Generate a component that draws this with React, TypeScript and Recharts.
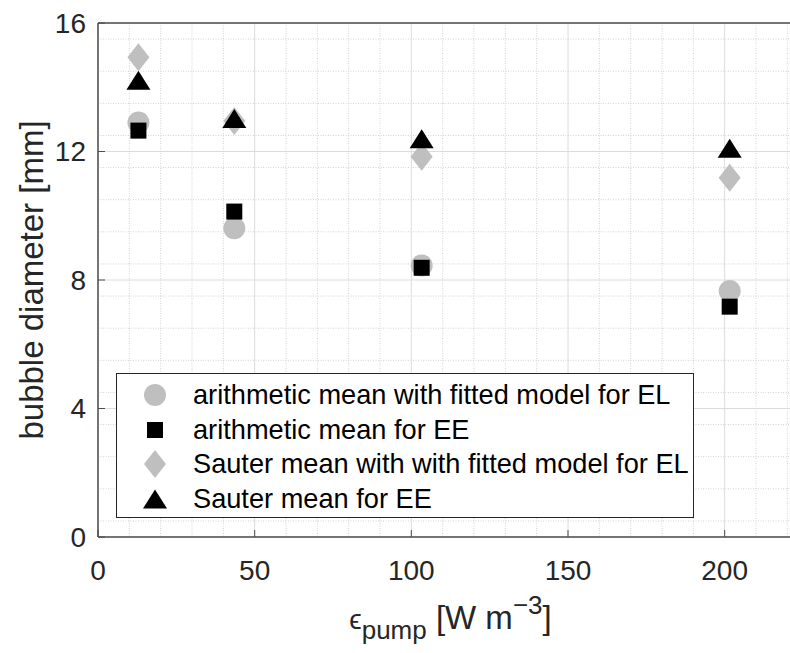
import { ScatterChart, Scatter, XAxis, YAxis, CartesianGrid, Legend, Label } from "recharts";

const epsilonPump = [12.9, 43.5, 103.3, 201.6];
const arithmeticEL = [12.9, 9.61, 8.45, 7.66];
const arithmeticEE = [12.65, 10.13, 8.38, 7.17];
const sauterEL = [14.93, 12.95, 11.84, 11.18];
const sauterEE = [14.22, 13.03, 12.4, 12.1];

const xTicks = [0, 50, 100, 150, 200];
const yTicks = [0, 4, 8, 12, 16];
const xMinor = [10, 20, 30, 40, 60, 70, 80, 90, 110, 120, 130, 140, 160, 170, 180, 190, 210, 220];
const yMinor = [
  0.5, 1, 1.5, 2, 2.5, 3, 3.5, 4.5, 5, 5.5, 6, 6.5, 7, 7.5, 8.5, 9, 9.5, 10, 10.5, 11, 11.5,
  12.5, 13, 13.5, 14, 14.5, 15, 15.5,
];

const labels = [
  "arithmetic mean with fitted model for EL",
  "arithmetic mean for EE",
  "Sauter mean with with fitted model for EL",
  "Sauter mean for EE",
];

const FONT = "'Liberation Sans', Arial, Helvetica, sans-serif";
const TEXT = "#262626";
const GRAY = "#bfbfbf";

const toPoints = (ys: number[]) => epsilonPump.map((x, i) => ({ x, y: ys[i] }));

const Dot = ({ cx, cy }: any) => <circle cx={cx} cy={cy} r={11} fill={GRAY} />;
const Square = ({ cx, cy }: any) => <rect x={cx - 8} y={cy - 8} width={16} height={16} fill="#000" />;
const Diamond = ({ cx, cy }: any) => (
  <polygon points={`${cx},${cy - 14} ${cx + 11},${cy} ${cx},${cy + 14} ${cx - 11},${cy}`} fill={GRAY} />
);
const Triangle = ({ cx, cy }: any) => (
  <polygon points={`${cx},${cy - 9.5} ${cx + 12},${cy + 9.5} ${cx - 12},${cy + 9.5}`} fill="#000" />
);

const shapes = [Dot, Square, Diamond, Triangle];

const XLabel = ({ viewBox }: any) => (
  <text
    x={viewBox.x + viewBox.width / 2}
    y={viewBox.y + 92}
    textAnchor="middle"
    fill={TEXT}
    fontFamily={FONT}
    fontSize={33}
  >
    <tspan fontSize={28}>ϵ</tspan>
    <tspan fontSize={26} dy={10}>pump</tspan>
    <tspan dy={-10}> [W m</tspan>
    <tspan fontSize={26} dy={-15}>−3</tspan>
    <tspan dy={15}>]</tspan>
  </text>
);

const YLabel = ({ viewBox }: any) => {
  const x = viewBox.x + 43;
  const y = viewBox.y + viewBox.height / 2;
  return (
    <text x={x} y={y} transform={`rotate(-90 ${x} ${y})`} textAnchor="middle" fill={TEXT} fontFamily={FONT} fontSize={33}>
      bubble diameter [mm]
    </text>
  );
};

const LegendBox = () => (
  <div
    style={{
      width: 578,
      height: 145,
      boxSizing: "border-box",
      border: "1px solid #262626",
      background: "#fff",
      paddingTop: 4,
      fontFamily: FONT,
      fontSize: 27.2,
      color: "#000",
    }}
  >
    {labels.map((label, i) => {
      const Shape = shapes[i];
      return (
        <div key={label} style={{ height: 34.5, display: "flex", alignItems: "center" }}>
          <svg width={76} height={34} style={{ flex: "none" }}>
            <Shape cx={38} cy={17} />
          </svg>
          <span style={{ whiteSpace: "nowrap" }}>{label}</span>
        </div>
      );
    })}
  </div>
);

export default function App() {
  const series = [arithmeticEL, arithmeticEE, sauterEL, sauterEE];
  return (
    <div style={{ position: "absolute", left: 0, top: 0, width: 790, height: 653, overflow: "hidden", background: "#fff" }}>
      <ScatterChart width={813} height={653} margin={{ top: 22, right: 10, bottom: 0, left: 0 }}>
        <CartesianGrid verticalValues={xMinor} horizontalValues={yMinor} stroke="#d2d2d2" strokeDasharray="1 1.5" />
        <CartesianGrid verticalValues={xTicks} horizontalValues={yTicks} stroke="#dcdcdc" />
        <XAxis
          type="number"
          dataKey="x"
          domain={[0, 225]}
          ticks={xTicks}
          allowDataOverflow
          height={116}
          tickSize={-7}
          tickMargin={30}
          axisLine={{ stroke: "#4d4d4d", strokeWidth: 1.5 }}
          tickLine={{ stroke: "#4d4d4d" }}
          tick={{ fill: TEXT, fontSize: 28, fontFamily: FONT }}
        >
          <Label content={XLabel} />
        </XAxis>
        <XAxis
          xAxisId="top"
          orientation="top"
          type="number"
          dataKey="x"
          domain={[0, 225]}
          ticks={xTicks}
          allowDataOverflow
          height={1}
          tickSize={-7}
          tick={false}
          axisLine={{ stroke: "#4d4d4d", strokeWidth: 1.5 }}
          tickLine={{ stroke: "#4d4d4d" }}
        />
        <YAxis
          type="number"
          dataKey="y"
          domain={[0, 16]}
          ticks={yTicks}
          allowDataOverflow
          width={98}
          tickSize={-7}
          tickMargin={19}
          axisLine={{ stroke: "#4d4d4d", strokeWidth: 1.5 }}
          tickLine={{ stroke: "#4d4d4d" }}
          tick={{ fill: TEXT, fontSize: 28, fontFamily: FONT }}
        >
          <Label content={YLabel} />
        </YAxis>
        {series.map((ys, i) => (
          <Scatter key={labels[i]} name={labels[i]} data={toPoints(ys)} shape={shapes[i]} isAnimationActive={false} />
        ))}
        <Legend
          layout="vertical"
          align="center"
          verticalAlign="middle"
          content={LegendBox}
          wrapperStyle={{ left: 116, top: 373, width: 578, height: 145 }}
        />
      </ScatterChart>
    </div>
  );
}
